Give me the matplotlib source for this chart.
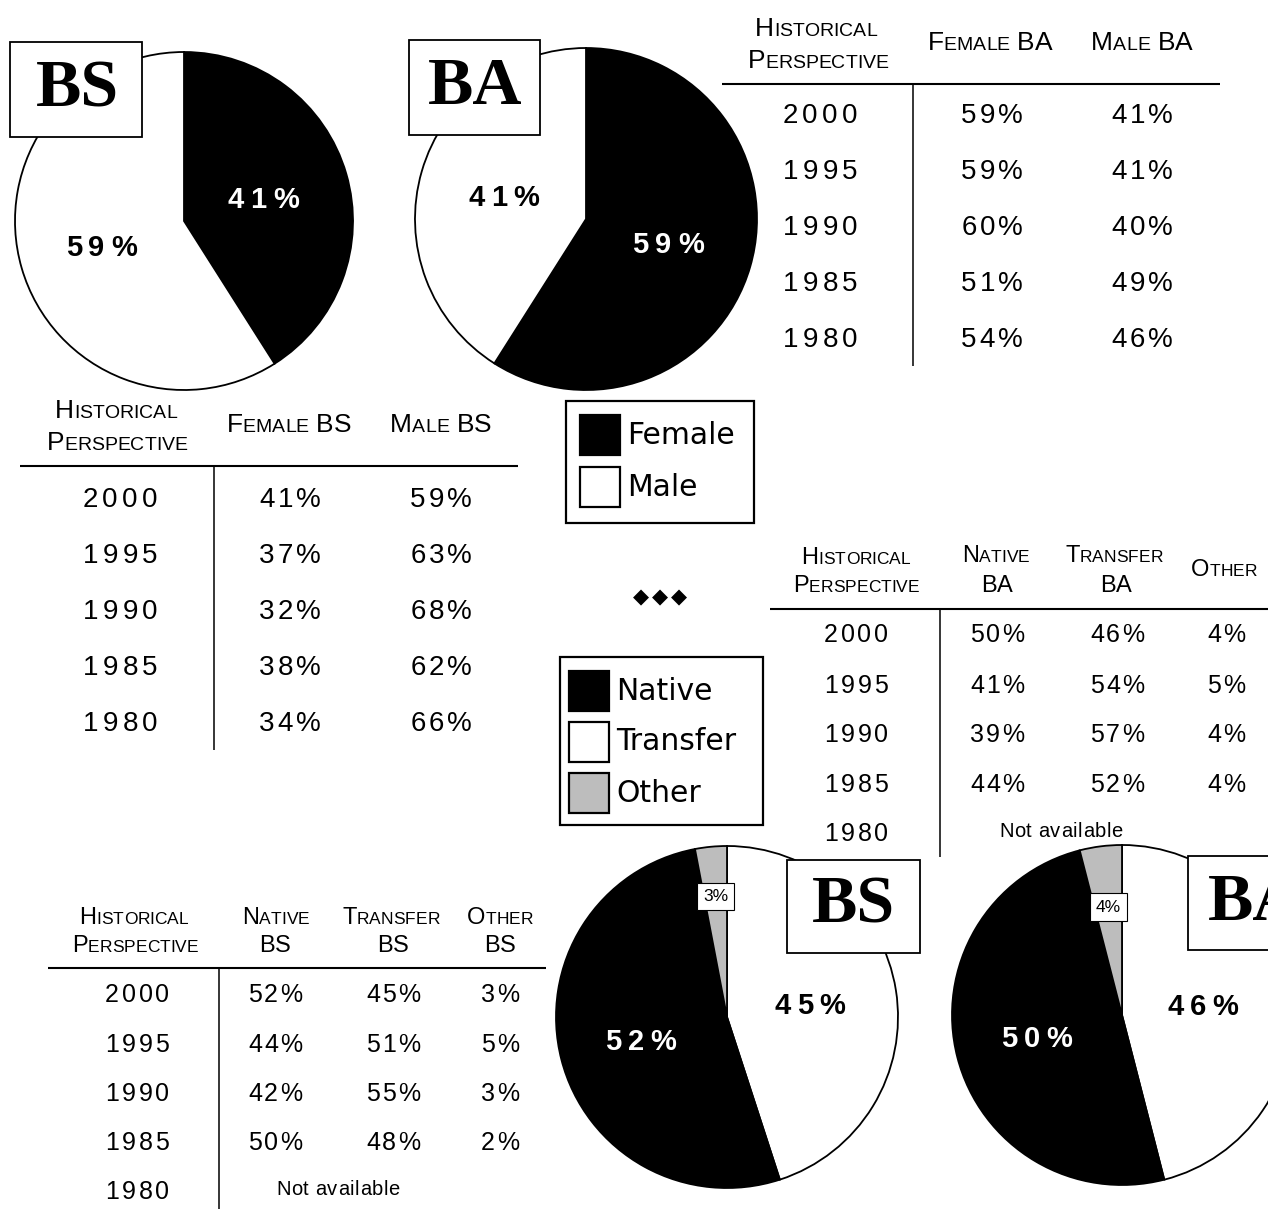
import matplotlib
matplotlib.use("Agg")
import numpy as np
import matplotlib.pyplot as plt
import matplotlib.font_manager as fm
from matplotlib.ft2font import FT2Font
from matplotlib.patches import Rectangle

W, H = 1268, 1209

# ----------------------------
# Data
# ----------------------------
years = ["2000", "1995", "1990", "1985", "1980"]
female_ba = [59, 59, 60, 51, 54]
male_ba = [41, 41, 40, 49, 46]
female_bs = [41, 37, 32, 38, 34]
male_bs = [59, 63, 68, 62, 66]
native_ba = [50, 41, 39, 44, None]
transfer_ba = [46, 54, 57, 52, None]
other_ba = [4, 5, 4, 4, None]
native_bs = [52, 44, 42, 50, None]
transfer_bs = [45, 51, 55, 48, None]
other_bs = [3, 5, 3, 2, None]
gender_labels = ["Female", "Male"]
origin_labels = ["Native", "Transfer", "Other"]

BLACK, WHITE, GRAY = "black", "white", "#bdbdbd"
SANS = "Liberation Sans"
SERIF = "Liberation Serif"
LEG = "DejaVu Sans"

fig = plt.figure(figsize=(W / 100, H / 100), dpi=100)
fig.patch.set_facecolor("white")

# overlay axes in pixel units, drawn above the pies
ov = fig.add_axes([0, 0, 1, 1], zorder=10)
ov.set_xlim(0, W)
ov.set_ylim(H, 0)
ov.axis("off")

# ----------------------------
# Text helpers (tracking + small caps)
# ----------------------------
_fonts = {}


def advance(ch, family, weight, size):
    key = (family, weight)
    if key not in _fonts:
        path = fm.findfont(fm.FontProperties(family=family, weight=weight))
        _fonts[key] = FT2Font(path)
    f = _fonts[key]
    f.set_size(size, 100)
    return f.load_char(ord(ch)).linearHoriAdvance / 65536


def draw_text(x, y, parts, tracking=0, ha="center", color="black",
              weight="normal", family=SANS):
    if isinstance(parts, str):
        parts = [(parts, 18)]
    big = max(s for _, s in parts)
    base = y + 0.36 * big * 100 / 72
    chars = [(c, s) for txt, s in parts for c in txt]
    widths = [advance(c, family, weight, s) for c, s in chars]
    total = sum(widths) + tracking * (len(chars) - 1)
    x0 = x - total / 2 if ha == "center" else x
    for (c, s), w in zip(chars, widths):
        if c != " ":
            ov.text(x0, base, c, fontsize=s, family=family, weight=weight,
                    color=color, ha="left", va="baseline")
        x0 += w + tracking


def sc(text, big, small):
    parts = []
    for ch in text:
        size = small if ch.islower() else big
        if parts and parts[-1][1] == size:
            parts[-1] = (parts[-1][0] + ch.upper(), size)
        else:
            parts.append((ch.upper(), size))
    return parts


def rule(x0, x1, y, lw=1.5):
    ov.plot([x0, x1], [y, y], color="black", lw=lw, solid_capstyle="butt")


def vrule(x, y0, y1, lw=1.1):
    ov.plot([x, x], [y0, y1], color="black", lw=lw, solid_capstyle="butt")


def table(year_x, col_xs, row_ys, cols, size, ytrack, vtrack, na_x=None):
    for i, yr in enumerate(years):
        draw_text(year_x, row_ys[i], [(yr, size)], tracking=ytrack)
        vals = [c[i] for c in cols]
        if all(v is None for v in vals):
            draw_text(na_x, row_ys[i] - 2, [("Not available", size - 3.5)],
                      tracking=0.6)
            continue
        for cx, v in zip(col_xs, vals):
            draw_text(cx, row_ys[i], [(f"{v}%", size)], tracking=vtrack)


# ----------------------------
# Pies
# ----------------------------
def pie_at(cx, cy, r, values, colors):
    pad = 1.03
    ax = fig.add_axes([(cx - r * pad) / W, 1 - (cy + r * pad) / H,
                       2 * r * pad / W, 2 * r * pad / H])
    wedges, _ = ax.pie(values, colors=colors, startangle=90,
                       counterclock=False,
                       wedgeprops=dict(edgecolor="black", linewidth=1.3))
    ax.set_xlim(-pad, pad)
    ax.set_ylim(-pad, pad)
    ax.axis("off")
    return ax, wedges


def pie_label(pax, wedge, dist, color, text, boxed=False):
    mid = np.deg2rad((wedge.theta1 + wedge.theta2) / 2)
    disp = pax.transData.transform((dist * np.cos(mid), dist * np.sin(mid)))
    x, y = ov.transData.inverted().transform(disp)
    if boxed:
        ov.text(x, y, text, ha="center", va="center", fontsize=12.5,
                family=SANS, color="black",
                bbox=dict(boxstyle="square,pad=0.35", fc="white",
                          ec="black", lw=0.8))
    else:
        draw_text(x, y, [(text, 21)], tracking=6.5, color=color,
                  weight="bold")


def name_box(x0, y0, w, h, text, tx, ty, ha="center"):
    ov.add_patch(Rectangle((x0, y0), w, h, fc="white", ec="black", lw=1.3))
    ov.text(tx, ty, text, ha=ha, va="center", fontsize=49, family=SERIF,
            weight="bold")


# top BS pie (female / male)
bs_g = [female_bs[0], male_bs[0]]
pax, wd = pie_at(184, 221, 169, bs_g, [BLACK, WHITE])
pie_label(pax, wd[0], 0.49, "white", f"{bs_g[0]}%")
pie_label(pax, wd[1], 0.51, "black", f"{bs_g[1]}%")
name_box(10, 42, 132, 95, "BS", 77, 90)

# top BA pie
ba_g = [female_ba[0], male_ba[0]]
pax, wd = pie_at(586, 219, 171, ba_g, [BLACK, WHITE])
pie_label(pax, wd[0], 0.5, "white", f"{ba_g[0]}%")
pie_label(pax, wd[1], 0.5, "black", f"{ba_g[1]}%")
name_box(409, 40, 131, 95, "BA", 475, 88)

# bottom BS pie (transfer, native, other clockwise from top)
bs_o = [transfer_bs[0], native_bs[0], other_bs[0]]
pax, wd = pie_at(727, 1017, 171, bs_o, [WHITE, BLACK, GRAY])
pie_label(pax, wd[0], 0.49, "black", f"{bs_o[0]}%")
pie_label(pax, wd[1], 0.52, "white", f"{bs_o[1]}%")
pie_label(pax, wd[2], 0.71, "black", f"{bs_o[2]}%", boxed=True)
name_box(787, 860, 133, 93, "BS", 853, 906)

# bottom BA pie
ba_o = [transfer_ba[0], native_ba[0], other_ba[0]]
pax, wd = pie_at(1122, 1015, 170, ba_o, [WHITE, BLACK, GRAY])
pie_label(pax, wd[0], 0.48, "black", f"{ba_o[0]}%")
pie_label(pax, wd[1], 0.52, "white", f"{ba_o[1]}%")
pie_label(pax, wd[2], 0.64, "black", f"{ba_o[2]}%", boxed=True)
name_box(1188, 856, 110, 94, "BA", 1208, 903, ha="left")

# ----------------------------
# Legends
# ----------------------------
ov.add_patch(Rectangle((566, 401), 188, 122, fc="white", ec="black", lw=1.6))
for lab, col, y in zip(gender_labels, [BLACK, WHITE], [435, 487]):
    ov.add_patch(Rectangle((580, y - 20), 40, 40, fc=col, ec="black", lw=1.6))
    ov.text(627, y, lab, fontsize=21.5, family=LEG, ha="left", va="center")

ov.add_patch(Rectangle((560, 657), 203, 168, fc="white", ec="black", lw=1.6))
for lab, col, y in zip(origin_labels, [BLACK, WHITE, GRAY], [691, 742, 793]):
    ov.add_patch(Rectangle((569, y - 20), 40, 40, fc=col, ec="black", lw=1.6))
    ov.text(616, y, lab, fontsize=21.5, family=LEG, ha="left", va="center")

draw_text(660, 596, [("\u25c6\u25c6\u25c6", 15)], tracking=2.5, family=LEG)

# ----------------------------
# Tables
# ----------------------------
# top-right: female / male BA
draw_text(816, 26, sc("Historical", 19, 14))
draw_text(818, 58, sc("Perspective", 19, 14))
draw_text(990, 40, sc("Female BA", 19, 14))
draw_text(1142, 40, sc("Male BA", 19, 14))
rule(722, 1220, 84)
vrule(913, 84, 366)
table(820, [992, 1142], [113, 169, 225, 281, 337],
      [female_ba, male_ba], 20, 4.5, 3)

# left: female / male BS
draw_text(116, 409, sc("Historical", 19, 14))
draw_text(117, 441, sc("Perspective", 19, 14))
draw_text(289, 423, sc("Female BS", 19, 14))
draw_text(441, 423, sc("Male BS", 19, 14))
rule(20, 518, 466)
vrule(214, 466, 750)
table(120, [290, 441], [497, 553, 609, 665, 721],
      [female_bs, male_bs], 20, 4.5, 3)

# mid-right: native / transfer / other BA
draw_text(856, 556, sc("Historical", 17, 12.5))
draw_text(856, 584, sc("Perspective", 17, 12.5))
draw_text(996, 554, sc("Native", 17, 12.5))
draw_text(997, 583, [("BA", 17)])
draw_text(1114, 554, sc("Transfer", 17, 12.5))
draw_text(1116, 583, [("BA", 17)])
draw_text(1224, 568, sc("Other", 17, 12.5))
rule(770, 1268, 609)
vrule(940, 609, 857)
table(856, [997, 1117, 1226], [633, 684, 733, 783, 832],
      [native_ba, transfer_ba, other_ba], 18, 3, 2, na_x=1061)

# bottom-left: native / transfer / other BS
draw_text(134, 916, sc("Historical", 17, 12.5))
draw_text(135, 944, sc("Perspective", 17, 12.5))
draw_text(276, 915, sc("Native", 17, 12.5))
draw_text(275, 943, [("BS", 17)])
draw_text(391, 915, sc("Transfer", 17, 12.5))
draw_text(393, 943, [("BS", 17)])
draw_text(500, 915, sc("Other", 17, 12.5))
draw_text(500, 943, [("BS", 17)])
rule(48, 546, 968)
vrule(219, 968, 1209)
table(137, [275, 393, 500], [993, 1043, 1092, 1141, 1190],
      [native_bs, transfer_bs, other_bs], 18, 3, 2, na_x=338)

fig.savefig("out.png", dpi=100, facecolor="white")
